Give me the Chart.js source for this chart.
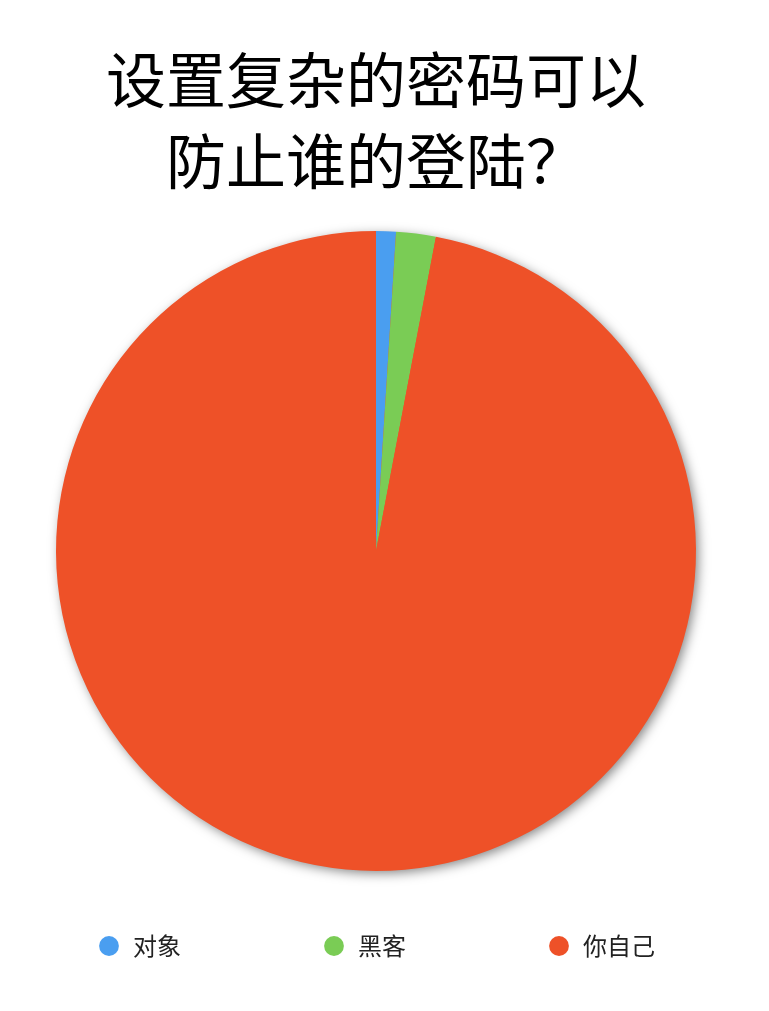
<!DOCTYPE html>
<html>
<head>
<meta charset="utf-8">
<script src="https://cdn.jsdelivr.net/npm/chart.js@4/dist/chart.umd.min.js"></script>
<style>
  html, body { margin: 0; padding: 0; background: #ffffff; }
  #wrap { width: 769px; height: 1011px; }
</style>
</head>
<body>
<div id="wrap"><canvas id="c" width="769" height="1011"></canvas></div>
<script>
const titleLines = ['设置复杂的密码可以', '防止谁的登陆？'];
const categories = ['对象', '黑客', '你自己'];
const shares = [1, 2, 97];
const sliceColors = ['#4A9EF0', '#7ACC55', '#EE5128'];

const pieShadow = {
  id: 'pieShadow',
  beforeDatasetsDraw(chart) {
    const meta = chart.getDatasetMeta(0);
    if (!meta.data.length) return;
    const arc = meta.data[0];
    const ctx = chart.ctx;
    ctx.save();
    ctx.shadowColor = 'rgba(0,0,0,0.5)';
    ctx.shadowBlur = 12;
    ctx.shadowOffsetX = 3;
    ctx.shadowOffsetY = 3;
    ctx.beginPath();
    ctx.arc(arc.x, arc.y, arc.outerRadius - 1, 0, Math.PI * 2);
    ctx.fillStyle = sliceColors[2];
    ctx.fill();
    ctx.restore();
  }
};

// keep the legend on a single row despite the wide spacing between items
const singleRowLegend = {
  id: 'singleRowLegend',
  beforeInit(chart) {
    const legend = chart.legend;
    if (!legend) return;
    const origFit = legend.fit;
    legend.fit = function () {
      const saved = this.maxWidth;
      this.maxWidth = 5000;
      origFit.call(this);
      this.maxWidth = saved;
      this.width = Math.min(this.width, saved);
    };
    const origDraw = legend.draw;
    legend.draw = function () {
      const l = this.left, r = this.right;
      this.left = l - 2000;
      this.right = r + 2000;
      origDraw.call(this);
      this.left = l;
      this.right = r;
    };
  }
};

new Chart(document.getElementById('c'), {
  type: 'pie',
  data: {
    labels: categories,
    datasets: [{
      data: shares,
      backgroundColor: sliceColors,
      borderWidth: 0,
      clip: false
    }]
  },
  options: {
    responsive: false,
    animation: false,
    radius: 320,
    layout: { padding: { left: 0, right: 17, top: 0, bottom: 43 } },
    plugins: {
      tooltip: { enabled: false },
      title: {
        display: true,
        text: titleLines,
        color: '#000000',
        font: { family: '"Noto Sans CJK SC", "Noto Sans", sans-serif', size: 60, weight: 'normal', lineHeight: 1.35 },
        padding: { top: 39.5, bottom: 107.5 }
      },
      legend: {
        display: true,
        position: 'bottom',
        labels: {
          usePointStyle: true,
          pointStyle: 'circle',
          boxHeight: 14,
          boxWidth: 24,
          padding: 141,
          color: '#222222',
          font: { family: '"Noto Sans CJK SC", "Noto Sans", sans-serif', size: 24 }
        }
      }
    }
  },
  plugins: [singleRowLegend, pieShadow]
});
</script>
</body>
</html>
